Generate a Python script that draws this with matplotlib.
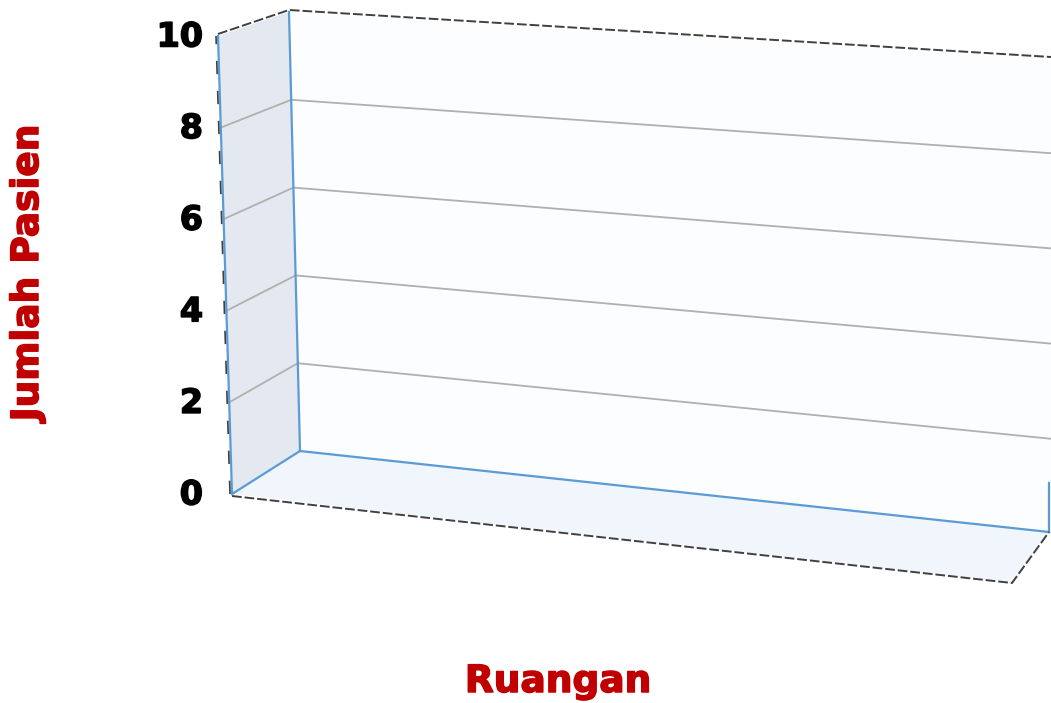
import numpy as np
from matplotlib import pyplot as plt
from matplotlib.patches import Polygon
import matplotlib.patheffects as pe

# chart content
y_ticks = [0, 2, 4, 6, 8, 10]
y_max = 10
x_title = 'Ruangan'
y_title = 'Jumlah Pasien'

# 3D box in screen pixels: each vertical edge as (x, y) at value 0 and at y_max
front_edge = ((232, 494), (218, 36))
back_edge = ((300, 451), (289, 12))
right_edge = ((1051, 534), (1051, 58))
floor_front_right = (1012, 583)
floor_back_right = (1049, 532)

edge_blue = '#5b9bd5'
grid_grey = '#b0b0b0'
dark = '#404040'
title_red = '#c00000'


def on_edge(edge, v):
    (x0, y0), (x1, y1) = edge
    t = v / y_max
    return (x0 + (x1 - x0) * t, y0 + (y1 - y0) * t)


def heavy(color, w):
    return [pe.withStroke(linewidth=w, foreground=color)]


fig = plt.figure(figsize=(10.51, 7.03), dpi=100)
ax = fig.add_axes([0, 0, 1, 1])
ax.set_xlim(0, 1051)
ax.set_ylim(703, 0)
ax.axis('off')

# walls and floor
left_wall = [on_edge(front_edge, 0), on_edge(front_edge, y_max),
             on_edge(back_edge, y_max), on_edge(back_edge, 0)]
back_wall = [on_edge(back_edge, 0), on_edge(back_edge, y_max),
             (1055, 58), (1055, 534)]
floor = [on_edge(front_edge, 0), on_edge(back_edge, 0),
         floor_back_right, floor_front_right]
ax.add_patch(Polygon(back_wall, closed=True, fc='#fcfdfe', ec='none', zorder=1))
ax.add_patch(Polygon(left_wall, closed=True, fc='#e4e8f1', ec='none', zorder=1))
ax.add_patch(Polygon(floor, closed=True, fc='#f1f5fc', ec='none', zorder=1))

# gridlines
for v in y_ticks[1:-1]:
    p_front = on_edge(front_edge, v)
    p_back = on_edge(back_edge, v)
    p_right = on_edge(right_edge, v)
    ax.plot([p_front[0], p_back[0], p_right[0]], [p_front[1], p_back[1], p_right[1]],
            color=grid_grey, lw=1.3, zorder=2)

# blue inner edges
b0 = on_edge(back_edge, 0)
f0 = on_edge(front_edge, 0)
ft = on_edge(front_edge, y_max)
bt = on_edge(back_edge, y_max)
rt = on_edge(right_edge, y_max)
ax.plot([f0[0], b0[0], floor_back_right[0]], [f0[1], b0[1], floor_back_right[1]],
        color=edge_blue, lw=1.6, zorder=3)
ax.plot([b0[0], bt[0]], [b0[1], bt[1]], color=edge_blue, lw=1.6, zorder=3)
ax.plot([f0[0], ft[0]], [f0[1], ft[1]], color=edge_blue, lw=1.6, zorder=3)
ax.plot([floor_back_right[0], floor_back_right[0]], [floor_back_right[1], 483],
        color=edge_blue, lw=1.6, zorder=3)

# dark dashed outer edges
dash = dict(color=dark, lw=1.4, ls=(0, (5, 1.5)), zorder=4)
ax.plot([ft[0], bt[0], rt[0]], [ft[1] - 2, bt[1] - 2, rt[1] - 1], **dash)
ax.plot([f0[0], floor_front_right[0], floor_back_right[0]],
        [f0[1] + 2, floor_front_right[1], floor_back_right[1]], **dash)
ax.plot([f0[0] - 2, ft[0] - 2], [f0[1], ft[1]], color=dark, lw=1.2,
        ls=(0, (8, 10)), zorder=4)

# value labels
for v in y_ticks:
    x, y = on_edge(front_edge, v)
    ax.text(203, y + 1, str(v), ha='right', va='center', fontsize=24,
            fontweight='bold', color='black', zorder=5,
            path_effects=heavy('black', 1.1))

# axis titles
ax.text(28, 273, y_title, rotation=90, ha='center', va='center', fontsize=27,
        fontweight='bold', color=title_red, path_effects=heavy(title_red, 1.1))
ax.text(558, 682, x_title, ha='center', va='center', fontsize=27,
        fontweight='bold', color=title_red, path_effects=heavy(title_red, 1.1))

fig.savefig('out.png', dpi=100)
